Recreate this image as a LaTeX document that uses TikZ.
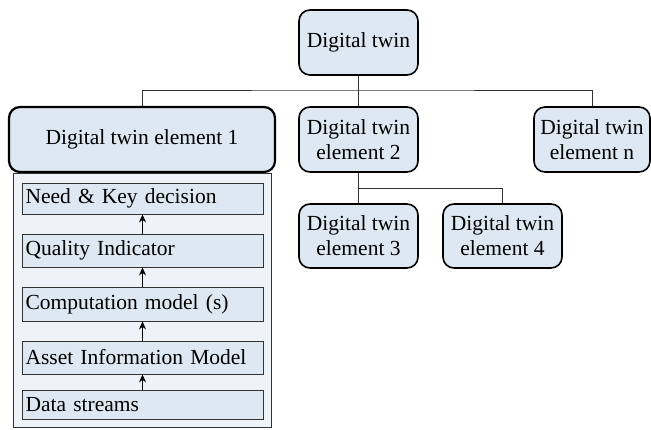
\documentclass[tikz,border=0pt]{standalone}
\usepackage{fontspec}
\setmainfont{Liberation Serif}
\usetikzlibrary{arrows.meta}
\definecolor{boxfill}{HTML}{DDE8F2}
\definecolor{panelfill}{HTML}{EEF3F9}
\definecolor{linegray}{HTML}{333333}
\tikzset{
  twin/.style={draw=black, line width=1.6pt, fill=boxfill, rounded corners=11pt,
    inner sep=0pt, align=center, font=\fontsize{21.5}{25}\selectfont},
  layer/.style={draw=linegray, line width=0.9pt, fill=boxfill, inner sep=0pt,
    minimum width=241pt, text width=234pt, align=left, font=\fontsize{21.5}{25}\selectfont},
  link/.style={draw=linegray, line width=0.9pt},
  flow/.style={draw=black, line width=1.1pt, -{Stealth[length=8pt,width=7pt]}}
}
\begin{document}
\begin{tikzpicture}[x=1pt,y=-1pt]
\useasboundingbox (0,0) rectangle (651,429);
% hierarchy of twin elements
\node[twin, minimum width=119pt, minimum height=65pt] (root) at (358.5,42.5) {Digital twin};
\node[twin, line width=2.2pt, minimum width=266pt, minimum height=65pt] (e1) at (142,139.5) {Digital twin element 1};
\node[twin, minimum width=119pt, minimum height=65pt] (e2) at (358.5,139.5) {Digital twin\\element 2};
\node[twin, minimum width=116pt, minimum height=65pt] (en) at (592,139.5) {Digital twin\\element n};
\node[twin, minimum width=119pt, minimum height=64pt] (e3) at (358.5,236) {Digital twin\\element 3};
\node[twin, minimum width=119pt, minimum height=64pt] (e4) at (502.5,236) {Digital twin\\element 4};
% tree connectors
\coordinate (bus) at (358.5,90);
\coordinate (sub) at (358.5,188);
\draw[link] (root.south) -- (bus);
\draw[link] (e1.north) |- (bus) -| (en.north);
\draw[link] (bus) -- (e2.north);
\draw[link] (e2.south) -- (sub);
\draw[link] (sub) -- (e3.north);
\draw[link] (sub) -| (e4.north);
% layered panel under element 1
\node[draw=linegray, line width=0.9pt, fill=panelfill, minimum width=258pt, minimum height=254pt, inner sep=0pt] (panel) at (142,300) {};
\node[layer, minimum height=31pt] (need) at (142.5,198.5) {Need \& Key decision};
\node[layer, minimum height=33pt] (qual) at (142.5,250.5) {Quality Indicator};
\node[layer, minimum height=34pt] (comp) at (142.5,304) {Computation model (s)};
\node[layer, minimum height=33pt] (asset) at (142.5,357.5) {Asset Information Model};
\node[layer, minimum height=29pt] (data) at (142.5,404.5) {Data streams};
\draw[flow] (data) -- (asset);
\draw[flow] (asset) -- (comp);
\draw[flow] (comp) -- (qual);
\draw[flow] (qual) -- (need);
\end{tikzpicture}
\end{document}
